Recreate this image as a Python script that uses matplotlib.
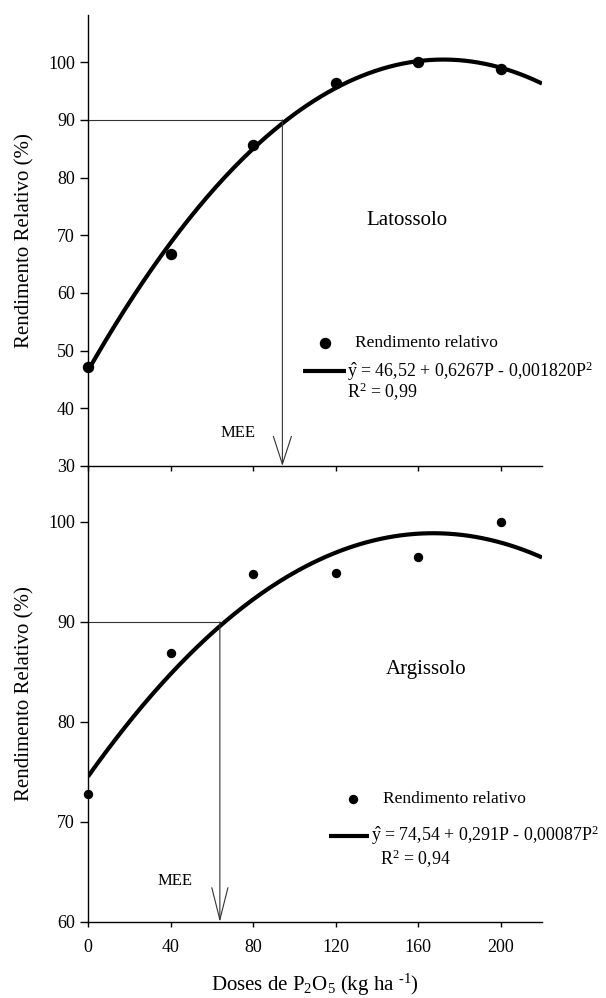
import numpy as np
import matplotlib
matplotlib.use('Agg')
import matplotlib.pyplot as plt

plt.rcParams['font.family'] = ['Liberation Serif', 'DejaVu Serif']
plt.rcParams['mathtext.fontset'] = 'custom'
plt.rcParams['mathtext.rm'] = 'Liberation Serif'
plt.rcParams['mathtext.it'] = 'Liberation Serif:italic'

# dados
doses = [0, 40, 80, 120, 160, 200]
rr_latossolo = [47.2, 66.7, 85.6, 96.4, 100.1, 98.9]
rr_argissolo = [72.8, 86.9, 94.8, 94.9, 96.5, 100.0]

# coeficientes das equacoes (b0, b1, b2)
coef_latossolo = [46.52, 0.6267, -0.001820]
coef_argissolo = [74.54, 0.291, -0.00087]

# maxima eficiencia economica (90 %)
mee_latossolo = 94.2
mee_argissolo = 63.9
nivel = 90

xticks = [0, 40, 80, 120, 160, 200]
yticks_lat = [30, 40, 50, 60, 70, 80, 90, 100]
yticks_arg = [60, 70, 80, 90, 100]

fig = plt.figure(figsize=(6.06, 9.98), dpi=100)
ax1 = fig.add_axes([0.1452, 0.5331, 0.7492, 0.4519])
ax2 = fig.add_axes([0.1452, 0.0762, 0.7492, 0.4569])
ax1.patch.set_visible(False)
ax2.patch.set_visible(False)


def painel(ax, y, coef, mee, ylim, yticks, nome, ms, leg, eq, r2, arrow):
    P = np.linspace(0, 220, 200)
    ax.plot(P, coef[0] + coef[1] * P + coef[2] * P ** 2, color='black',
            lw=3, solid_capstyle='butt', zorder=3)
    ax.scatter(doses, y, s=ms, color='black', zorder=4, clip_on=False)

    # linhas da MEE
    ax.plot([0, mee], [nivel, nivel], color='#333333', lw=0.8)
    ax.annotate('', xy=(mee, ylim[0]), xytext=(mee, nivel),
                arrowprops=dict(arrowstyle='->,head_length=%s,head_width=%s'
                                % (arrow[0], arrow[1]),
                                color='#333333', lw=0.8,
                                shrinkA=0, shrinkB=0))

    ax.set_xlim(0, 220)
    ax.set_ylim(*ylim)
    ax.set_xticks(xticks)
    ax.set_yticks(yticks)
    for s in ['top', 'right']:
        ax.spines[s].set_visible(False)
    for s in ['left', 'bottom']:
        ax.spines[s].set_linewidth(1.0)
    ax.tick_params(axis='y', direction='out', length=5.5, width=1.0,
                   labelsize=13, pad=4)
    ax.tick_params(axis='x', direction='out', length=3.5, width=1.0,
                   labelsize=13, pad=9)
    ax.set_ylabel('Rendimento Relativo (%)', fontsize=15, labelpad=10)

    ax.text(nome[1], nome[2], nome[0], transform=ax.transAxes,
            fontsize=15, ha='center', va='center')

    # legenda desenhada a mao
    ax.scatter([leg[0]], [leg[1]], s=ms, color='black',
               transform=ax.transAxes, clip_on=False)
    ax.text(leg[2], leg[1], 'Rendimento relativo', transform=ax.transAxes,
            fontsize=12.5, va='center')
    ax.plot([leg[3], leg[4]], [leg[5], leg[5]], color='black', lw=3,
            transform=ax.transAxes, solid_capstyle='butt')
    ax.text(leg[6], leg[5], eq, transform=ax.transAxes, fontsize=12.9,
            va='center')
    ax.text(leg[7], leg[8], r2, transform=ax.transAxes, fontsize=12.9,
            va='center')


painel(ax1, rr_latossolo, coef_latossolo, mee_latossolo, (30, 108.2),
       yticks_lat, ('Latossolo', 0.703, 0.545), 52,
       [0.522, 0.273, 0.588, 0.474, 0.568, 0.211, 0.570, 0.570, 0.164],
       r'$\hat{\mathrm{y}}$ = 46,52 + 0,6267P - 0,001820P$^2$',
       r'R$^2$ = 0,99', (2.0, 0.65))
painel(ax2, rr_argissolo, coef_argissolo, mee_argissolo, (60, 105.6),
       yticks_arg, ('Argissolo', 0.744, 0.553), 33,
       [0.583, 0.269, 0.649, 0.531, 0.619, 0.189, 0.624, 0.643, 0.138],
       r'$\hat{\mathrm{y}}$ = 74,54 + 0,291P - 0,00087P$^2$',
       r'R$^2$ = 0,94', (2.3, 0.58))

ax1.set_xticklabels([])
ax1.text(72.5, 35.7, 'MEE', fontsize=12, ha='center', va='center')
ax2.text(42.3, 64.1, 'MEE', fontsize=12, ha='center', va='center')
ax2.set_xlabel('Doses de P$_2$O$_5$ (kg ha $^{\u2010 1}$)', fontsize=15,
               labelpad=11)

fig.savefig('out.png', dpi=100)
